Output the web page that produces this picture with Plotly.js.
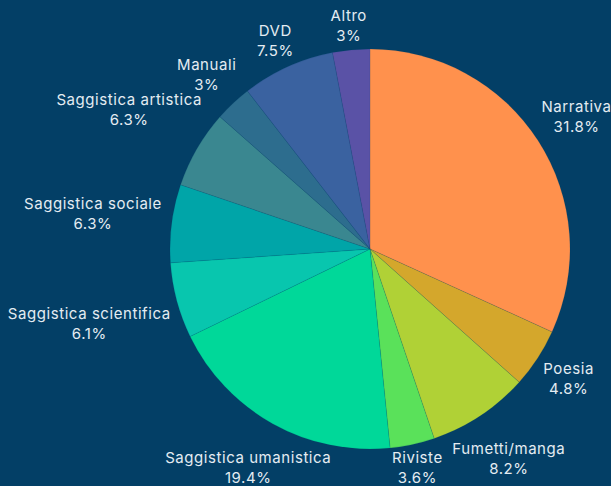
<!DOCTYPE html>
<html>
<head>
<meta charset="utf-8">
<script src="https://cdn.plot.ly/plotly-3.0.1.min.js"></script>
<style>
html,body{margin:0;padding:0;background:#033f66;}
#chart{width:611px;height:486px;}
#chart .annotation-text{letter-spacing:0.56px;}
</style>
</head>
<body>
<div id="chart"></div>
<script>
const categories = ["Narrativa","Poesia","Fumetti/manga","Riviste","Saggistica umanistica","Saggistica scientifica","Saggistica sociale","Saggistica artistica","Manuali","DVD","Altro"];
const shares = [31.8, 4.8, 8.2, 3.6, 19.4, 6.1, 6.3, 6.3, 3, 7.5, 3];
const colors = ["#ff914d","#d4a72c","#b0d136","#5ae15a","#00d899","#08c6ae","#00a5a8","#3a8790","#2d6d8e","#3a62a0","#5a52a6"];

const FONT_FAMILY = 'Inter, "Open Sans", sans-serif';
const FONT_SIZE = 15;
const LETTER_SPACING = 0.56;
const TEXT_COLOR = '#e4ecf2';

const W = 611, H = 486;
const margin = {l: 170, r: 41, t: 49, b: 37};

// pie geometry as plotly computes it from the plot area
const plotW = W - margin.l - margin.r, plotH = H - margin.t - margin.b;
const cx = margin.l + plotW / 2, cy = margin.t + plotH / 2;
const R = Math.min(plotW, plotH) / 2;

const ctx = document.createElement('canvas').getContext('2d');
ctx.font = FONT_SIZE + 'px ' + FONT_FAMILY;
function textWidth(s) {
  return ctx.measureText(s).width + LETTER_SPACING * (s.length - 1);
}

const total = shares.reduce((a, b) => a + b, 0);
const annotations = [];
let cum = 0;
const GAP = 9, HALF_H = 13.5, EDGE_H = 16.5;
shares.forEach((v, i) => {
  const mid = (cum + v / 2) / total * 2 * Math.PI;
  cum += v;
  const ux = Math.sin(mid), uy = -Math.cos(mid);
  const pct = v + '%';
  const w = Math.max(textWidth(categories[i]), textWidth(pct));
  let d = R + GAP + (w / 2) * Math.abs(ux) + HALF_H * Math.abs(uy);
  // keep label inside the canvas, sliding it back along its radius
  const limits = [];
  if (uy > 0) limits.push((H - 2 - EDGE_H - cy) / uy);
  if (uy < 0) limits.push((2 + EDGE_H - cy) / uy);
  if (ux > 0) limits.push((W - w / 2 - cx) / ux);
  if (ux < 0) limits.push((w / 2 - cx) / ux);
  limits.forEach(L => { if (L < d) d = L; });
  const px = cx + d * ux, py = cy + d * uy;
  annotations.push({
    xref: 'paper', yref: 'paper',
    x: (px - margin.l) / plotW,
    y: (H - margin.b - py) / plotH,
    xanchor: 'center', yanchor: 'middle',
    text: categories[i] + '<br>' + pct,
    showarrow: false,
    align: 'center',
    font: {family: FONT_FAMILY, size: FONT_SIZE, color: TEXT_COLOR}
  });
});

const trace = {
  type: 'pie',
  labels: categories,
  values: shares,
  sort: false,
  direction: 'clockwise',
  rotation: 0,
  marker: {colors: colors, line: {color: 'rgba(3,63,102,0.25)', width: 0.5}},
  textinfo: 'none',
  hoverinfo: 'none',
  automargin: false,
  showlegend: false
};

const layout = {
  width: W, height: H,
  paper_bgcolor: '#033f66',
  plot_bgcolor: '#033f66',
  margin: margin,
  showlegend: false,
  annotations: annotations
};

Plotly.newPlot('chart', [trace], layout, {staticPlot: true, displayModeBar: false});
</script>
</body>
</html>
